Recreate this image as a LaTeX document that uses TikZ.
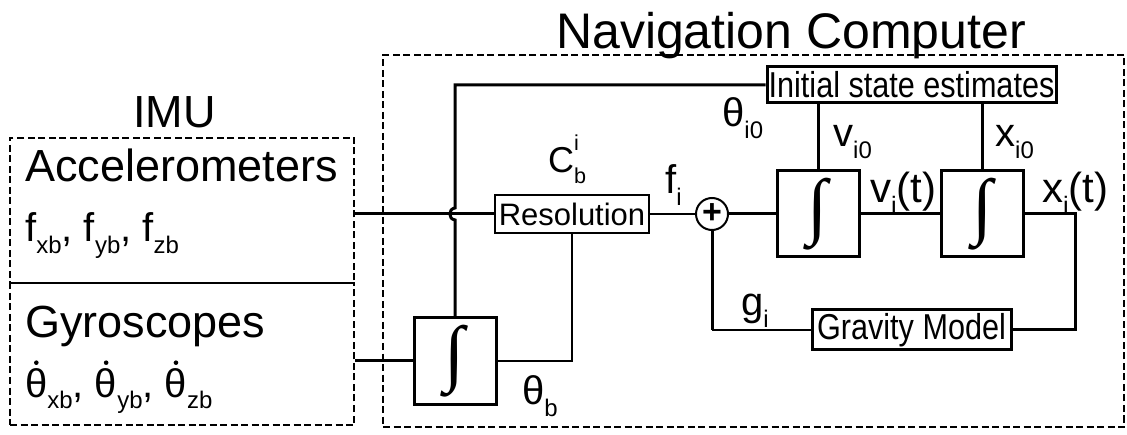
\documentclass[tikz,border=0pt]{standalone}
\usepackage{fontspec}
\usepackage{graphicx}
\setmainfont{Liberation Sans}
\newfontfamily\narrowsf{Liberation Sans}[FakeStretch=0.85]
\newfontfamily\intfont{Liberation Serif}
\newcommand\Lg{\fontsize{45}{54}\selectfont}
\newcommand\Md{\fontsize{40}{48}\selectfont}
\newcommand\sbs[1]{\raisebox{-0.28em}{\scalebox{0.6}{#1}}}
\newcommand\sps[1]{\raisebox{0.62em}{\scalebox{0.6}{#1}}}
\newcommand\thd{\ooalign{θ\cr\hidewidth\raisebox{0.8em}{\tikz\fill circle (2.3pt);}\hidewidth\cr}}
\newcommand\integ{\resizebox*{!}{72pt}{\intfont ∫}}

\tikzset{
  dashbox/.style={draw, line width=2.8pt, dash pattern=on 7pt off 3.5pt, inner sep=0pt},
  intbox/.style={draw, line width=3pt, minimum width=82pt, minimum height=86pt, inner sep=0pt},
  blk/.style={draw, line width=3pt, inner sep=0pt, font=\narrowsf\fontsize{36}{40}\selectfont},
  lbl/.style={inner sep=0pt, anchor=base west, font=\Md},
  sig/.style={line width=3pt},
  thinsig/.style={line width=1.6pt},
}

\begin{document}
\begin{tikzpicture}[x=1pt, y=-1pt]
\useasboundingbox (0,0) rectangle (1127,435);
% IMU
\node[dashbox, minimum width=344, minimum height=145] (acc) at (182,210.5) {};
\node[dashbox, minimum width=344, minimum height=142] (gyro) at (182,354) {};
\node[inner sep=0pt, anchor=base, font=\Lg] (imuttl) at (174.5,128) {IMU};
\node[lbl, font=\Lg] (accttl) at (25,182) {Accelerometers};
\node[lbl] (accsig) at (25,242) {f\sbs{xb}, f\sbs{yb}, f\sbs{zb}};
\node[lbl, font=\Lg] (gyrottl) at (25,338) {Gyroscopes};
\node[lbl] (gyrosig) at (25,397) {\thd\sbs{xb}, \thd\sbs{yb}, \thd\sbs{zb}};

% navigation computer
\node[dashbox, minimum width=741, minimum height=372] (nav) at (753.5,241) {};
\node[inner sep=0pt, anchor=base, font=\fontsize{50}{60}\selectfont] (navttl) at (791,49) {Navigation Computer};

\node[blk, minimum width=289, minimum height=36] (init) at (911.5,85) {Initial state estimates};
\node[blk, line width=1.6pt, minimum width=154, minimum height=38, font=\fontsize{31}{36}\selectfont] (res) at (572,214) {Resolution};
\node[circle, draw, line width=2pt, minimum size=32, inner sep=0pt, font=\bfseries\fontsize{34}{34}\selectfont] (sum) at (712,214) {+};
\node[intbox] (int1) at (818,214) {\integ};
\node[intbox] (int2) at (982.5,214) {\integ};
\node[intbox] (int0) at (455,361) {\integ};
\node[blk, minimum width=199, minimum height=40] (grav) at (911.5,330) {Gravity Model};

% signals
\coordinate (hop) at (int0.north |- res.west);
\draw[sig] (acc.east |- res.west) -- (res.west);
\draw[sig] (int0.north) -- ([yshift=-6pt]hop) .. controls ([xshift=-7pt,yshift=-5pt]hop) and ([xshift=-7pt,yshift=5pt]hop) .. ([yshift=6pt]hop) -- (hop |- init.west) -- (init.west);
\draw[thinsig] (res.east) -- (sum.west);
\draw[sig] (sum.east) -- (int1.west);
\draw[sig] (int1.east) -- (int2.west);
\draw[sig] (int2.east) -- ++(50,0) |- (grav.east);
\draw[thinsig] (grav.west) -- (sum.south |- grav.west);
\draw[sig] (sum.south |- grav.west) -- (sum.south);
\draw[sig] (int1.north |- init.south) -- (int1.north);
\draw[sig] (int2.north |- init.south) -- (int2.north);
\draw[sig] (gyro.east |- int0.west) -- (int0.west);
\draw[thinsig] (int0.east) -- (res.south |- int0.east) -- (res.south);

% labels
\node[lbl, font=\fontsize{36}{40}\selectfont] (cbi) at (548,173) {C\rlap{\sps{i}}\sbs{b}};
\node[lbl] (fi) at (665,194) {f\sbs{i}};
\node[lbl] (thi0) at (722,127) {θ\sbs{i0}};
\node[lbl] (vi0) at (833,147) {v\sbs{i0}};
\node[lbl] (xi0) at (995,147) {x\sbs{i0}};
\node[lbl, font=\fontsize{42}{48}\selectfont] (vit) at (870,203) {v\sbs{i}(t)};
\node[lbl, font=\fontsize{42}{48}\selectfont] (xit) at (1042,203) {x\sbs{i}(t)};
\node[lbl] (gi) at (741,316) {g\sbs{i}};
\node[lbl] (thb) at (522,405) {θ\sbs{b}};
\end{tikzpicture}
\end{document}
